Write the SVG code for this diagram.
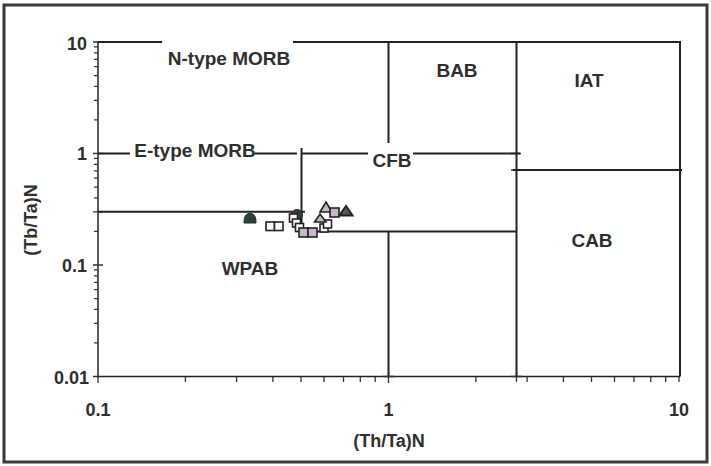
<svg xmlns="http://www.w3.org/2000/svg" width="711" height="466" viewBox="0 0 711 466">
<style>
.t{font-family:"Liberation Sans",Arial,sans-serif;font-weight:bold;font-size:18px;fill:#2e2e2e}
.r{font-size:19px}
.ln{stroke:#222;stroke-width:2;fill:none}
.ax{stroke:#222;stroke-width:1.5;fill:none}
.tk{stroke:#333;stroke-width:1.3;fill:none}
.sq{fill:#fff;stroke:#222;stroke-width:1.6}
.lv{fill:#c6b6c8;stroke:#222;stroke-width:1.6}
.dk{fill:#2d4038;stroke:#1f2d27;stroke-width:1}
</style>
<rect x="0" y="0" width="711" height="466" fill="#fff"/>
<rect x="4" y="5" width="703" height="457" fill="none" stroke="#3a3a3a" stroke-width="3"/>
<g id="axes">
<path class="ax" d="M98,42 V376.5 H680"/>
<path class="tk" d="M93,42H98M93,153.5H103M93,265H103M93,376.5H98M93,211.8H103
M94,119.9H98M94,100.3H98M94,86.4H98M94,75.6H98M94,66.7H98M94,59.3H98M94,52.8H98M94,46.9H98
M94,231.4H98M94,197.9H98M94,187.1H98M94,178.2H98M94,170.8H98M94,164.3H98M94,158.4H98
M94,342.9H98M94,323.3H98M94,309.4H98M94,298.6H98M94,289.7H98M94,282.3H98M94,275.8H98M94,269.9H98
M98,376.5V383M185.4,376.5V382M236.6,376.5V382M272.9,376.5V382M301,376.5V382M324,376.5V382M343.5,376.5V382M360.3,376.5V382M375.2,376.5V382
M388.5,371V383M475.9,376.5V382M527.1,376.5V382M563.4,376.5V382M591.5,376.5V382M614.5,376.5V382M634,376.5V382M650.8,376.5V382M665.7,376.5V382M679,376.5V382
M516.5,371V382M383,376.5H394M511,376.5H522M383,42H394M511,42H522M511,170H522M511,153.5H521"/>
</g>
<g id="connectors">
<path class="ln" d="M98,42H162M293,42H680V376.5"/>
<path class="ln" d="M388.5,42V143M388.5,231.4V376.5"/>
<path class="ln" d="M516.5,42V376.5"/>
<path class="ln" d="M98,153.5H130M255,153.5H297M302,153.5H368M413,153.5H520"/>
<path class="ln" d="M513,170H682"/>
<path class="ln" d="M98,211.8H305"/>
<path class="ln" d="M301.5,148V231.4H516.5"/>
</g>
<g id="labels">
<text class="t" x="87" y="50" text-anchor="end">10</text>
<text class="t" x="87" y="160" text-anchor="end">1</text>
<text class="t" x="87" y="272" text-anchor="end">0.1</text>
<text class="t" x="89" y="384" text-anchor="end">0.01</text>
<text class="t" x="98" y="416" text-anchor="middle">0.1</text>
<text class="t" x="388.5" y="416" text-anchor="middle">1</text>
<text class="t" x="679" y="416" text-anchor="middle">10</text>
<text class="t" x="389" y="447" text-anchor="middle">(Th/Ta)N</text>
<text class="t" transform="translate(37,220) rotate(-90)" text-anchor="middle">(Tb/Ta)N</text>
</g>
<g id="N-type-MORB"><text class="t r" x="229" y="65" text-anchor="middle">N-type MORB</text></g>
<g id="E-type-MORB"><text class="t r" x="195" y="157" text-anchor="middle">E-type MORB</text></g>
<g id="BAB"><text class="t r" x="457" y="77" text-anchor="middle">BAB</text></g>
<g id="IAT"><text class="t r" x="589" y="87" text-anchor="middle">IAT</text></g>
<g id="CFB"><text class="t r" x="392" y="167" text-anchor="middle">CFB</text></g>
<g id="CAB"><text class="t r" x="592" y="247" text-anchor="middle">CAB</text></g>
<g id="WPAB"><text class="t r" x="250" y="275" text-anchor="middle" font-size="20">WPAB</text></g>
<g id="data">
<path class="dk" d="M244,223 Q243.5,214 250,213 Q256.5,214 256,223 Z"/>
<circle class="dk" cx="297" cy="215" r="5.5"/>
<rect class="sq" x="266" y="222" width="8.5" height="8.5"/>
<rect class="sq" x="274.5" y="222" width="8.5" height="8.5"/>
<rect class="sq" x="289.5" y="214" width="8" height="8"/>
<rect class="sq" x="292.5" y="219" width="8" height="8"/>
<rect class="sq" x="295.5" y="223.5" width="8" height="8"/>
<rect class="lv" x="299" y="228" width="9" height="9"/>
<rect class="lv" x="308" y="228" width="9" height="9"/>
<rect class="sq" x="320" y="224" width="8" height="8"/>
<rect class="sq" x="323.5" y="220" width="8" height="8"/>
<polygon class="lv" points="320,214 326,222 314.5,222"/>
<polygon class="lv" points="326,202 332,212 320,212"/>
<rect class="lv" x="330" y="208" width="9" height="9"/>
<polygon points="346,206 352.5,215.5 339.5,215.5" fill="#4f5f57" stroke="#222" stroke-width="2"/>
</g>
</svg>
